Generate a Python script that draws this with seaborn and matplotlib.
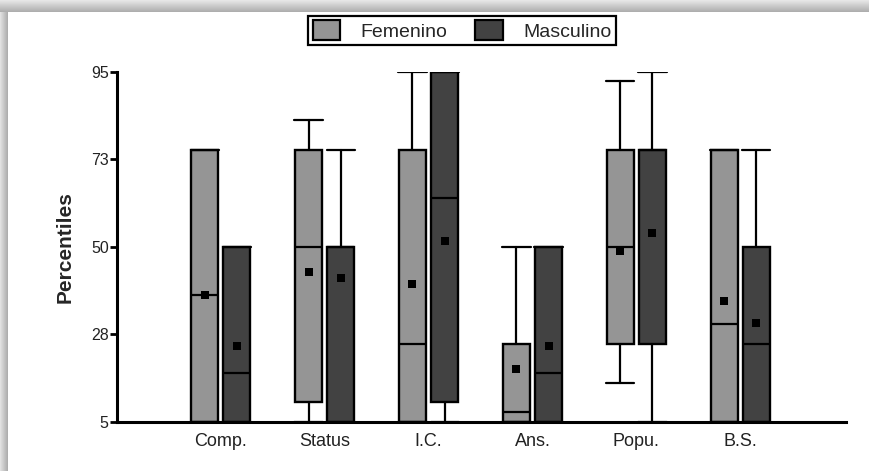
import numpy as np
import matplotlib
matplotlib.use("Agg")
import matplotlib.pyplot as plt
from matplotlib.patches import Patch
import seaborn as sns

# ---------------- data ----------------
categories = ["Comp.", "Status", "I.C.", "Ans.", "Popu.", "B.S."]
groups = ["Femenino", "Masculino"]

fem_whislo = [5, 5, 5, 5, 15, 5]
fem_q1 = [5, 10, 5, 5, 25, 5]
fem_med = [37.5, 50, 25, 7.5, 50, 30]
fem_q3 = [75, 75, 75, 25, 75, 75]
fem_whishi = [75, 82.5, 95, 50, 92.5, 75]
fem_mean = [37.5, 43.5, 40.5, 18.5, 49, 36]

masc_whislo = [5, 5, 5, 5, 5, 5]
masc_q1 = [5, 5, 10, 5, 25, 5]
masc_med = [17.5, 50, 62.5, 17.5, 75, 25]
masc_q3 = [50, 50, 95, 50, 75, 50]
masc_whishi = [50, 75, 95, 50, 95, 75]
masc_mean = [24.5, 42, 51.5, 24.5, 53.5, 30.5]

ytick_pos = [5, 27.5, 50, 72.5, 95]
ytick_labels = ["5", "28", "50", "73", "95"]

colors = {"Femenino": "#959595", "Masculino": "#424242"}

# ---------------- style ----------------
sns.set_theme(style="ticks")
plt.rcParams["font.family"] = ["Liberation Sans", "DejaVu Sans"]

fig = plt.figure(figsize=(8.7, 4.71), dpi=100)

# shadow frame (top and left)
H, W = 471, 870
bgimg = np.ones((H, W))
top_n, left_n = 12, 8
for r in range(top_n):
    bgimg[r, :] = np.minimum(bgimg[r, :], 0.90 - 0.22 * r / (top_n - 1))
for c in range(left_n):
    bgimg[top_n:, c] = np.minimum(bgimg[top_n:, c], 0.88 - 0.20 * c / (left_n - 1))
bg = fig.add_axes([0, 0, 1, 1], zorder=-5)
bg.imshow(bgimg, cmap="gray", vmin=0, vmax=1, aspect="auto", interpolation="bilinear")
bg.axis("off")

ax = fig.add_axes([0.1345, 0.1047, 0.838, 0.743])
ax.set_facecolor("none")

x = np.arange(len(categories))
offset = 0.155
width = 0.26


def make_stats(lo, q1, med, q3, hi):
    return [dict(whislo=a, q1=b, med=c, q3=d, whishi=e, fliers=[])
            for a, b, c, d, e in zip(lo, q1, med, q3, hi)]


series = [
    ("Femenino", -offset, make_stats(fem_whislo, fem_q1, fem_med, fem_q3, fem_whishi), fem_mean),
    ("Masculino", offset, make_stats(masc_whislo, masc_q1, masc_med, masc_q3, masc_whishi), masc_mean),
]

for name, off, stats, means in series:
    ax.bxp(stats, positions=x + off, widths=width, patch_artist=True,
           showfliers=False, manage_ticks=False, capwidths=width * 1.05,
           boxprops=dict(facecolor=colors[name], edgecolor="black", linewidth=1.7),
           medianprops=dict(color="black", linewidth=1.6),
           whiskerprops=dict(color="black", linewidth=1.6),
           capprops=dict(color="black", linewidth=1.6))
    sns.scatterplot(x=x + off, y=means, marker="s", color="black", s=32,
                    edgecolor="black", linewidth=0, legend=False, ax=ax, zorder=6)

ax.set_xlim(-1, 6.02)
ax.set_ylim(5, 95)
ax.set_xticks(x)
ax.set_xticklabels(categories, fontsize=13, color="#222222")
ax.set_yticks(ytick_pos)
ax.set_yticklabels(ytick_labels, fontsize=11.5, color="#222222")
ax.tick_params(axis="x", length=0, pad=8)
ax.tick_params(axis="y", direction="out", length=5, width=2, pad=1, color="black")
ax.set_ylabel("Percentiles", fontsize=15, fontweight="bold", labelpad=12)
for s in ["top", "right"]:
    ax.spines[s].set_visible(False)
for s in ["left", "bottom"]:
    ax.spines[s].set_linewidth(2.2)
    ax.spines[s].set_color("black")
ax.grid(False)

handles = [Patch(facecolor=colors[g], edgecolor="black", linewidth=1.6) for g in groups]
leg = fig.legend(handles, groups, loc="center", bbox_to_anchor=(0.531, 0.935), ncol=2,
                 frameon=True, fancybox=False, edgecolor="black", framealpha=1,
                 fontsize=14, handlelength=1.4, handleheight=1.2, handletextpad=1.05,
                 columnspacing=1.45, borderpad=0.22, borderaxespad=0)
leg.get_frame().set_linewidth(1.6)

fig.savefig("out.png", dpi=100)
